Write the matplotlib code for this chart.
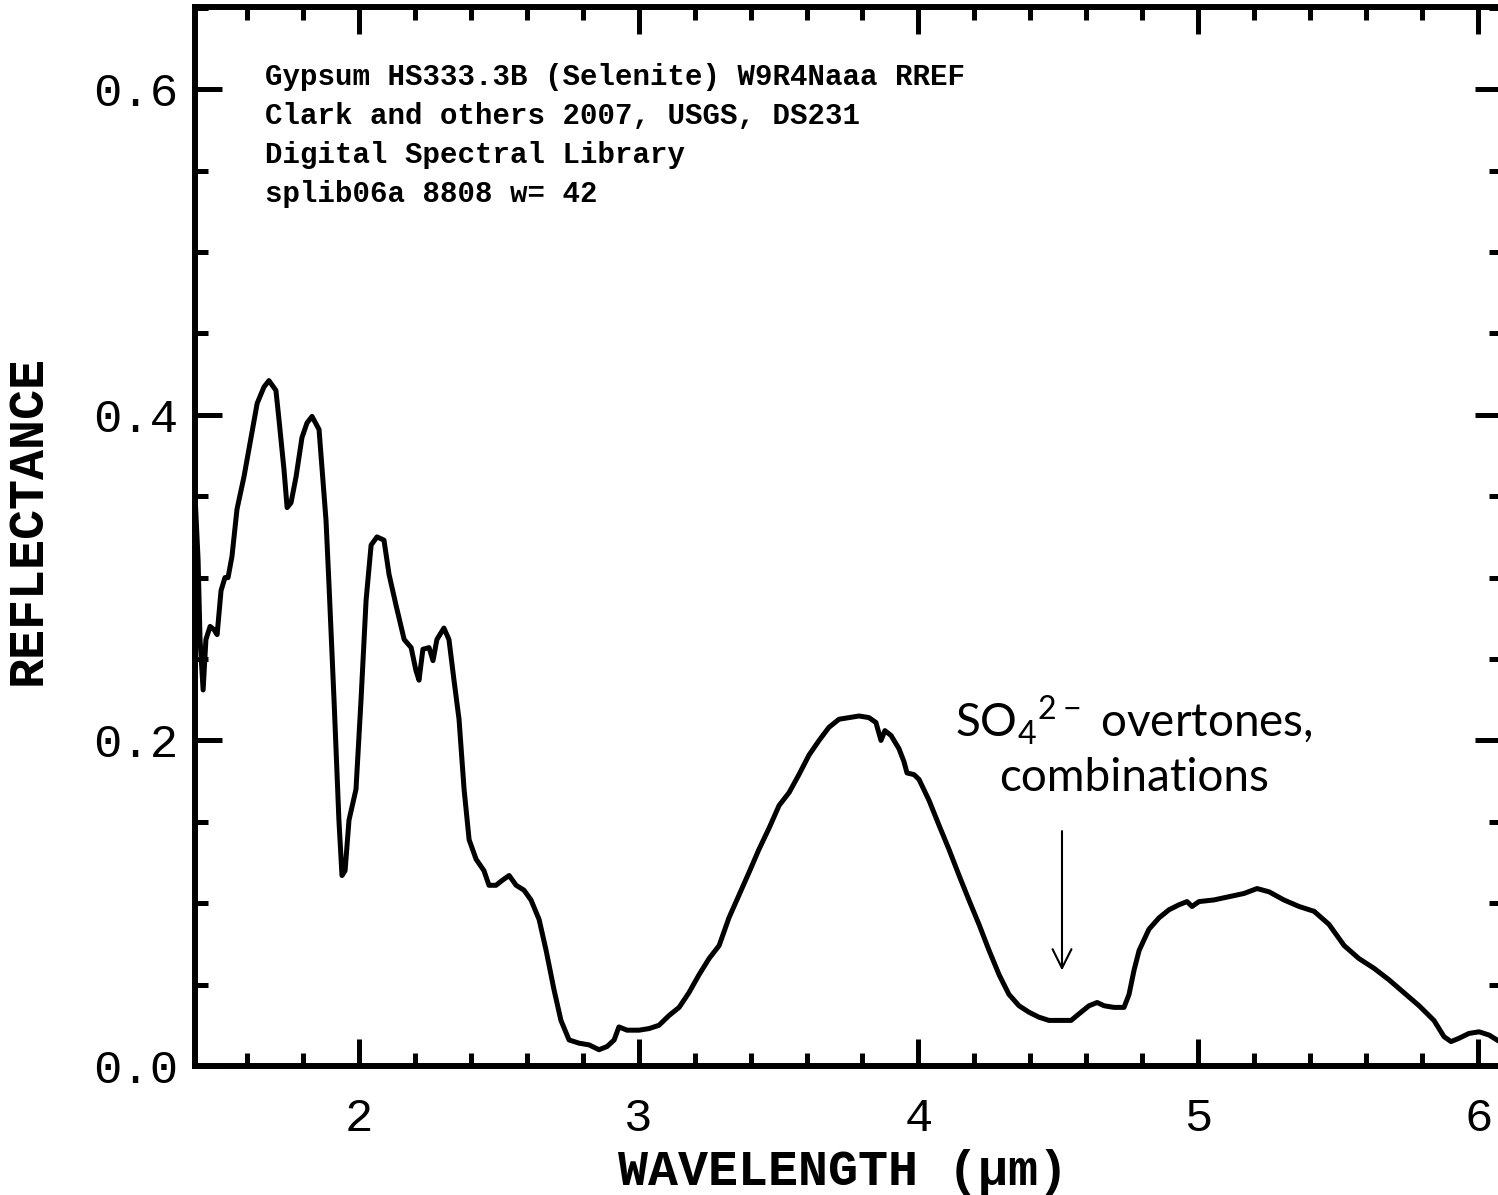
import matplotlib
matplotlib.use("Agg")
import matplotlib.pyplot as plt
from matplotlib.ticker import MultipleLocator

# gypsum (selenite) reflectance spectrum
wavelength = [
    1.416, 1.427, 1.434, 1.445, 1.455, 1.470, 1.484, 1.495, 1.509, 1.523,
    1.534, 1.548, 1.566, 1.591, 1.616, 1.638, 1.662, 1.680, 1.705, 1.716,
    1.734, 1.745, 1.759, 1.777, 1.798, 1.816, 1.834, 1.859, 1.870, 1.884,
    1.895, 1.905, 1.913, 1.930, 1.941, 1.952, 1.966, 1.991, 2.009, 2.027,
    2.045, 2.066, 2.091, 2.109, 2.134, 2.163, 2.188, 2.205, 2.216, 2.230,
    2.252, 2.266, 2.280, 2.305, 2.323, 2.341, 2.359, 2.377, 2.395, 2.420,
    2.448, 2.466, 2.491, 2.513, 2.538, 2.563, 2.591, 2.616, 2.645, 2.670,
    2.698, 2.723, 2.752, 2.788, 2.823, 2.859, 2.888, 2.913, 2.930, 2.959,
    3.002, 3.038, 3.073, 3.109, 3.145, 3.180, 3.216, 3.252, 3.288, 3.323,
    3.359, 3.395, 3.430, 3.466, 3.502, 3.538, 3.573, 3.609, 3.645, 3.680,
    3.716, 3.752, 3.788, 3.823, 3.848, 3.866, 3.880, 3.902, 3.930, 3.948,
    3.959, 3.984, 4.002, 4.038, 4.073, 4.109, 4.145, 4.180, 4.216, 4.252,
    4.288, 4.323, 4.359, 4.395, 4.430, 4.466, 4.502, 4.545, 4.573, 4.609,
    4.638, 4.663, 4.698, 4.734, 4.752, 4.770, 4.788, 4.823, 4.859, 4.895,
    4.930, 4.959, 4.977, 5.002, 5.055, 5.109, 5.163, 5.209, 5.252, 5.305,
    5.359, 5.413, 5.466, 5.520, 5.573, 5.627, 5.680, 5.734, 5.788, 5.841,
    5.877, 5.902, 5.930, 5.966, 6.002, 6.038, 6.066,
]
reflectance = [
    0.351, 0.311, 0.262, 0.231, 0.262, 0.270, 0.268, 0.265, 0.292, 0.300,
    0.300, 0.313, 0.342, 0.362, 0.386, 0.407, 0.417, 0.421, 0.415, 0.397,
    0.366, 0.343, 0.346, 0.362, 0.386, 0.395, 0.399, 0.391, 0.366, 0.335,
    0.294, 0.254, 0.223, 0.151, 0.117, 0.120, 0.151, 0.170, 0.225, 0.286,
    0.320, 0.325, 0.323, 0.302, 0.283, 0.262, 0.257, 0.243, 0.237, 0.256,
    0.257, 0.249, 0.262, 0.269, 0.262, 0.237, 0.213, 0.170, 0.139, 0.127,
    0.120, 0.111, 0.111, 0.114, 0.117, 0.111, 0.108, 0.102, 0.090, 0.071,
    0.047, 0.028, 0.016, 0.014, 0.013, 0.010, 0.012, 0.016, 0.024, 0.022,
    0.022, 0.023, 0.025, 0.031, 0.036, 0.045, 0.056, 0.066, 0.074, 0.091,
    0.105, 0.119, 0.133, 0.146, 0.160, 0.168, 0.179, 0.191, 0.200, 0.208,
    0.213, 0.214, 0.215, 0.214, 0.211, 0.200, 0.206, 0.203, 0.195, 0.187,
    0.180, 0.179, 0.176, 0.163, 0.148, 0.133, 0.117, 0.102, 0.087, 0.071,
    0.056, 0.044, 0.037, 0.033, 0.030, 0.028, 0.028, 0.028, 0.032, 0.037,
    0.039, 0.037, 0.036, 0.036, 0.044, 0.059, 0.071, 0.084, 0.091, 0.096,
    0.099, 0.101, 0.098, 0.101, 0.102, 0.104, 0.106, 0.109, 0.107, 0.102,
    0.098, 0.095, 0.087, 0.074, 0.066, 0.060, 0.053, 0.045, 0.037, 0.028,
    0.018, 0.015, 0.017, 0.020, 0.021, 0.019, 0.016,
]

header_lines = [
    "Gypsum HS333.3B (Selenite) W9R4Naaa RREF",
    "Clark and others 2007, USGS, DS231",
    "Digital Spectral Library",
    "splib06a 8808 w= 42",
]
x_ticks = [2, 3, 4, 5, 6]
y_ticks = [0.0, 0.2, 0.4, 0.6]
y_tick_labels = ["0.0", "0.2", "0.4", "0.6"]

plt.rcParams["mathtext.fontset"] = "custom"
plt.rcParams["mathtext.rm"] = "Lato"

fig = plt.figure(figsize=(14.98, 11.95), dpi=100)
ax = fig.add_axes([195 / 1498, 1 - 1066 / 1195, 1307 / 1498, 1059 / 1195])

ax.plot(wavelength, reflectance, color="black", linewidth=3.6,
        solid_joinstyle="round")

ax.set_xlim(1.416, 6.084)
ax.set_ylim(0, 0.6505)

# ticks on all four sides, pointing inward
ax.set_xticks(x_ticks)
ax.set_yticks(y_ticks)
ax.set_yticklabels(y_tick_labels)
ax.xaxis.set_minor_locator(MultipleLocator(0.2))
ax.yaxis.set_minor_locator(MultipleLocator(0.05))
ax.tick_params(which="both", direction="in", top=True, right=True, width=3.6,
               colors="black")
ax.tick_params(which="major", length=19.5)
ax.tick_params(which="minor", length=9.5)
ax.tick_params(axis="x", which="major", pad=22)
ax.tick_params(axis="y", which="major", pad=12)
for lbl in ax.get_xticklabels() + ax.get_yticklabels():
    lbl.set_fontfamily("Liberation Mono")
    lbl.set_fontsize(34)
for sp in ax.spines.values():
    sp.set_linewidth(4.3)

# axis titles placed in figure pixels
fig.text(843 / 1498, 1 - 1172 / 1195, "WAVELENGTH (\u03bcm)",
         fontfamily="Liberation Mono", fontweight="bold", fontsize=36,
         ha="center", va="center")
fig.text(28 / 1498, 1 - 520 / 1195, "REFLECTANCE",
         fontfamily="Liberation Mono", fontweight="bold", fontsize=36,
         rotation=90, ha="center", va="center")

# header block in the upper left
for i, line in enumerate(header_lines):
    ax.text(70 / 1307, 1 - (70 + 39 * i) / 1059,
            line, transform=ax.transAxes, fontfamily="Liberation Mono",
            fontweight="bold", fontsize=21, va="center", ha="left")

# band annotation
ax.text(4.77, 0.2125, r"SO$_\mathregular{4}$$^\mathregular{2-}$ overtones,",
        fontfamily="Lato", fontsize=33, ha="center", va="center")
ax.text(4.77, 0.177, "combinations", fontfamily="Lato", fontsize=33,
        ha="center", va="center")
ax.annotate("", xy=(4.5125, 0.057), xytext=(4.5125, 0.146),
            arrowprops=dict(arrowstyle="->", color="black", lw=1.5,
                            mutation_scale=34))

plt.savefig("out.png", dpi=100)
